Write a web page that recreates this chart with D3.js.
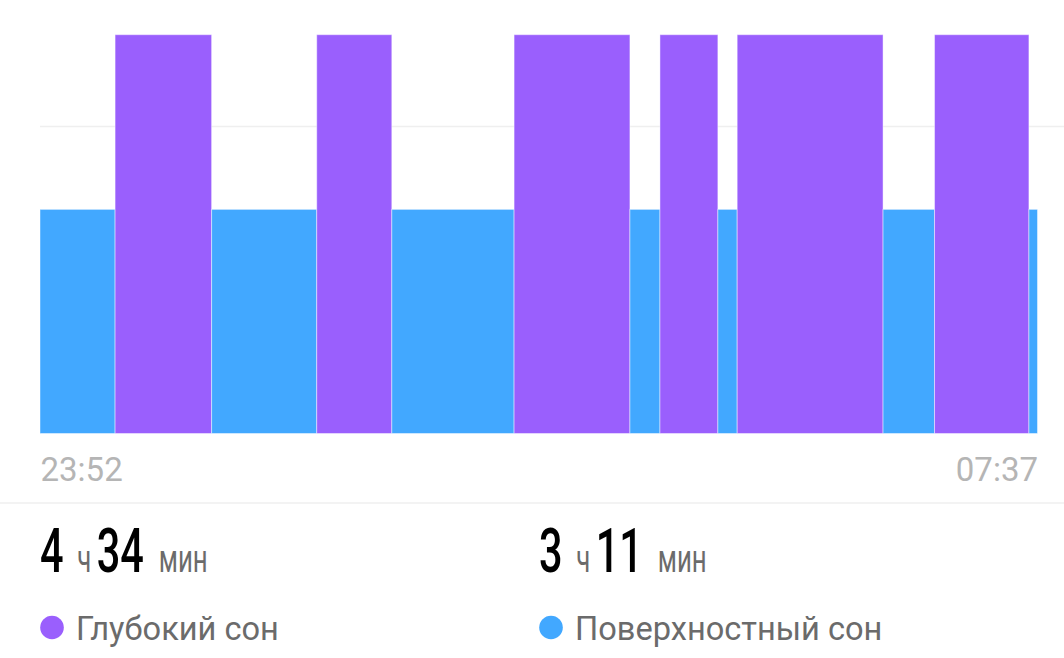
<!DOCTYPE html>
<html><head><meta charset="utf-8">
<script src="https://cdn.jsdelivr.net/npm/d3@7"></script>
<style>
html,body{margin:0;padding:0;background:#fff;}
svg{display:block;font-family:Roboto,"Noto Sans",sans-serif;}
</style></head>
<body>
<svg id="c" width="1064" height="658"></svg>
<script>
// Sleep segments (start time, end time, stage)
const segStart = ["23:52","00:27","01:12","02:01","02:36","03:33","04:27","04:41","05:08","05:17","06:25","06:49","07:33"];
const segEnd   = ["00:27","01:12","02:01","02:36","03:33","04:27","04:41","05:08","05:17","06:25","06:49","07:33","07:37"];
const segStage = ["light","deep","light","deep","light","deep","light","deep","light","deep","light","deep","light"];
const stages = ["deep","light"];
const stageLevel = [100, 56.2];
const gridLevels = [77];
const tickLabels = ["23:52","07:37"];
const totalsHours = [4, 3];
const totalsMinutes = [34, 11];
const legendLabels = ["Глубокий сон","Поверхностный сон"];
const stageColors = ["#9a5ffd","#42a8ff"];

function toDate(s){
  const [h,m] = s.split(":").map(Number);
  const day = h >= 12 ? 0 : 1;
  return new Date(2020,0,1+day,h,m);
}
const svg = d3.select("#c");
const x = d3.scaleTime()
  .domain([toDate(tickLabels[0]), toDate(tickLabels[1])])
  .range([40, 1037.5]);
const y = d3.scaleLinear().domain([0,100]).range([433.5, 34.7]);
const color = d3.scaleOrdinal().domain(stages).range(stageColors);
const level = d3.scaleOrdinal().domain(stages).range(stageLevel);

// gridline
svg.append("g").selectAll("line").data(gridLevels).join("line")
  .attr("x1",40).attr("x2",1064)
  .attr("y1",d=>Math.round(y(d))+0.5).attr("y2",d=>Math.round(y(d))+0.5)
  .attr("stroke","#efefef").attr("stroke-width",1.5);

const segs = segStart.map((s,i)=>({s:toDate(s), e:toDate(segEnd[i]), st:segStage[i]}));
svg.append("g").selectAll("rect").data(segs).join("rect")
  .attr("x",d=>x(d.s)).attr("width",d=>x(d.e)-x(d.s))
  .attr("y",d=>y(level(d.st))).attr("height",d=>y(0)-y(level(d.st)))
  .attr("fill",d=>color(d.st))
  .attr("stroke","rgba(255,255,255,0.45)").attr("stroke-width",1);

// x axis
const ax = svg.append("g").attr("transform","translate(0,433.5)")
  .call(d3.axisBottom(x).tickValues(tickLabels.map(toDate)).tickSize(0).tickFormat(d3.timeFormat("%H:%M")));
ax.select(".domain").remove();
ax.selectAll("text")
  .attr("font-family","Roboto").attr("font-size",33).attr("fill","#b5b5b5")
  .attr("dy",null).attr("y",47.5)
  .attr("text-anchor",(d,i)=>i===0?"start":"end");

// separator
svg.append("line").attr("x1",0).attr("x2",1064).attr("y1",503).attr("y2",503)
  .attr("stroke","#efefef").attr("stroke-width",1.5);

// totals
const sx = 0.68;
const colX = [40, 539];
totalsHours.forEach((h,i)=>{
  const g = svg.append("g").attr("transform",`translate(${colX[i]},571.5) scale(${sx},1)`);
  const t = g.append("text").attr("x",0).attr("y",0);
  t.append("tspan").attr("font-size",61).attr("font-weight",500).attr("fill","#000").text(h);
  t.append("tspan").attr("font-size",38).attr("fill","#6b6b6b").attr("dx",20).text("ч");
  t.append("tspan").attr("font-size",61).attr("font-weight",500).attr("fill","#000").attr("dx",8).text(totalsMinutes[i]);
  t.append("tspan").attr("font-size",38).attr("fill","#6b6b6b").attr("dx",22).text("мин");
});

// legend
const lg = svg.append("g").selectAll("g").data(legendLabels).join("g")
  .attr("transform",(d,i)=>`translate(${colX[i]},0)`);
lg.append("circle").attr("cx",12).attr("cy",627.5).attr("r",11.8)
  .attr("fill",(d,i)=>stageColors[i]);
lg.append("text").attr("x",36).attr("y",640).attr("font-size",32.6)
  .attr("fill","#6b6b6b").text(d=>d);
</script>
</body></html>
